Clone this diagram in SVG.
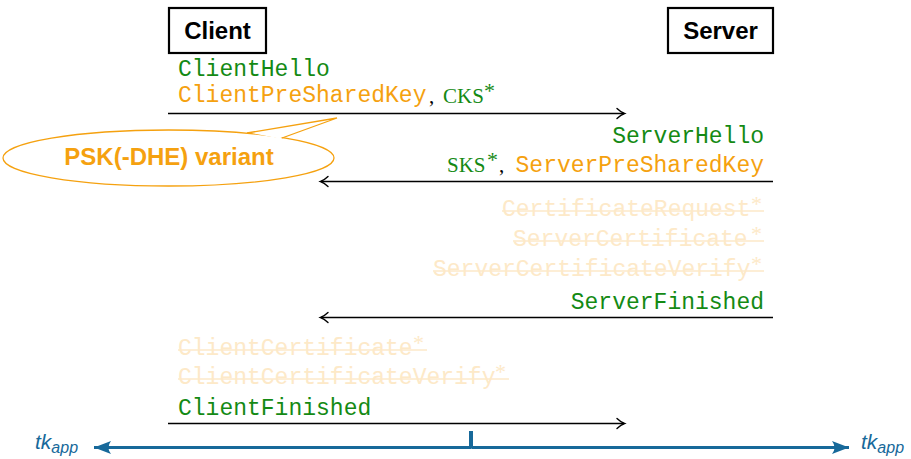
<svg xmlns="http://www.w3.org/2000/svg" width="911" height="459" viewBox="0 0 911 459">
<style>
.box{fill:#fff;stroke:#000;stroke-width:2.2}
.hdr{font-family:"Liberation Sans",Arial,sans-serif;font-weight:bold;font-size:24px;fill:#000}
.tt{font-family:"Liberation Mono","Courier New",monospace;font-size:23px}
.rm{font-family:"Liberation Serif","Times New Roman",serif;font-size:21px}
.sup{font-family:"Liberation Serif","Times New Roman",serif;font-size:22px}
.g{fill:#148a14}
.o{fill:#f5a10f}
.f{fill:#fde9c8}
.k{fill:#000}
.strike{stroke:#fde9c8;stroke-width:1.6}
.msg{stroke:#000;stroke-width:1.6;fill:none}
.blue{stroke:#17699a;stroke-width:3.2;fill:none}
.lbl{font-family:"Liberation Sans",Arial,sans-serif;font-style:italic;fill:#17699a}
</style>
<defs>
<marker id="ah" markerUnits="userSpaceOnUse" markerWidth="14" markerHeight="14" viewBox="-10 -7 12 14" refX="0" refY="0" orient="auto">
<path d="M -7 -5 Q -3 -1.2 0.5 0 Q -3 1.2 -7 5" fill="none" stroke="#000" stroke-width="1.4" stroke-linecap="round"/>
</marker>
<marker id="bh" markerUnits="userSpaceOnUse" markerWidth="20" markerHeight="16" viewBox="-18 -8 20 16" refX="0" refY="0" orient="auto">
<path d="M 0 0 L -17 -6.5 Q -12 0 -17 6.5 Z" fill="#17699a"/>
</marker>
</defs>

<g id="client">
<rect class="box" x="169" y="8" width="97" height="45"/>
<text class="hdr" x="217.5" y="39" text-anchor="middle">Client</text>
</g>
<g id="server">
<rect class="box" x="668" y="8" width="105" height="45"/>
<text class="hdr" x="720.5" y="39" text-anchor="middle">Server</text>
</g>

<g id="client-msg-1">
<text class="tt g" x="178" y="76">ClientHello</text>
<text class="tt o" x="178" y="102">ClientPreSharedKey</text>
<text class="rm k" x="429" y="103">,</text>
<text class="rm g" x="443" y="103">CKS</text>
<text class="sup g" x="484" y="98">*</text>
</g>

<g id="callout">
<ellipse cx="168.5" cy="158" rx="165.5" ry="28" fill="#fff" stroke="#f5a10f" stroke-width="1.3"/>
<path d="M 250 132.6 L 337 118 L 279 138.5" fill="#fff" stroke="none"/>
<path d="M 247 133 L 337 118 L 282 138" fill="none" stroke="#f5a10f" stroke-width="1.3"/>
<text x="169" y="165" text-anchor="middle" font-family="'Liberation Sans',Arial,sans-serif" font-weight="bold" font-size="24" fill="#f5a10f">PSK(-DHE) variant</text>
</g>

<g id="server-msg-1">
<text class="tt g" x="764" y="143" text-anchor="end">ServerHello</text>
<text class="rm g" x="447" y="172">SKS</text>
<text class="sup g" x="487" y="167">*</text>
<text class="rm k" x="499" y="172">,</text>
<text class="tt o" x="764" y="172" text-anchor="end">ServerPreSharedKey</text>
</g>

<g id="server-faded">
<text class="tt f" x="502" y="216">CertificateRequest</text>
<text class="sup f" x="751" y="211">*</text>
<line class="strike" x1="502" y1="211" x2="764" y2="211"/>
<text class="tt f" x="513" y="246">ServerCertificate</text>
<text class="sup f" x="751" y="241">*</text>
<line class="strike" x1="513" y1="241" x2="764" y2="241"/>
<text class="tt f" x="433" y="276">ServerCertificateVerify</text>
<text class="sup f" x="751" y="271">*</text>
<line class="strike" x1="433" y1="271" x2="764" y2="271"/>
<text class="tt g" x="764" y="309" text-anchor="end">ServerFinished</text>
</g>

<g id="client-faded">
<text class="tt f" x="178" y="355">ClientCertificate</text>
<text class="sup f" x="413" y="350">*</text>
<line class="strike" x1="178" y1="350" x2="427" y2="350"/>
<text class="tt f" x="178" y="384">ClientCertificateVerify</text>
<text class="sup f" x="495" y="379">*</text>
<line class="strike" x1="178" y1="379" x2="509" y2="379"/>
<text class="tt g" x="178" y="415">ClientFinished</text>
</g>

<g id="connectors">
<line class="msg" x1="168" y1="113.5" x2="624" y2="113.5" marker-end="url(#ah)"/>
<line class="msg" x1="773" y1="181.5" x2="321" y2="181.5" marker-end="url(#ah)"/>
<line class="msg" x1="773" y1="317.5" x2="321" y2="317.5" marker-end="url(#ah)"/>
<line class="msg" x1="168" y1="423.5" x2="624" y2="423.5" marker-end="url(#ah)"/>
<line class="blue" x1="471.5" y1="447.5" x2="94" y2="447.5" marker-end="url(#bh)"/>
<line class="blue" x1="471.5" y1="447.5" x2="849" y2="447.5" marker-end="url(#bh)"/>
<line x1="471" y1="431" x2="471" y2="448" stroke="#17699a" stroke-width="4"/>
</g>

<g id="labels">
<text class="lbl" x="35" y="449"><tspan font-size="21">tk</tspan><tspan font-size="16" dy="4">app</tspan></text>
<text class="lbl" x="861" y="449"><tspan font-size="21">tk</tspan><tspan font-size="16" dy="4">app</tspan></text>
</g>
</svg>
